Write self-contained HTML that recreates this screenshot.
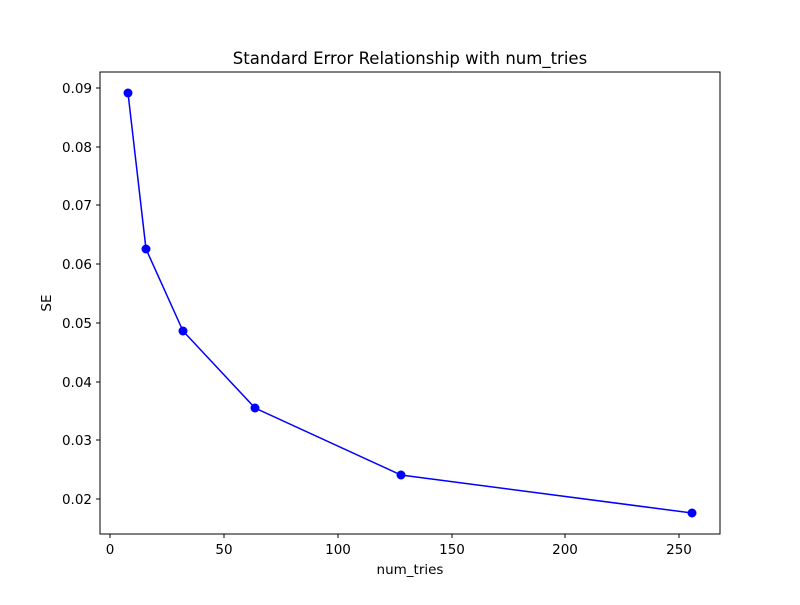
<!DOCTYPE html>
<html><head><meta charset="utf-8"><style>
body{margin:0;background:#fff}
svg text{font-family:"DejaVu Sans","Liberation Sans",sans-serif;fill:#000}
</style></head><body>
<svg width="800" height="600" xmlns="http://www.w3.org/2000/svg">
<rect width="800" height="600" fill="#fff"/>
<rect x="100" y="72" width="620" height="462" fill="none" stroke="#000" stroke-width="1"/>
<g stroke="#000" stroke-width="1">
<line x1="110" y1="534" x2="110" y2="538"/>
<line x1="224" y1="534" x2="224" y2="538"/>
<line x1="338" y1="534" x2="338" y2="538"/>
<line x1="452" y1="534" x2="452" y2="538"/>
<line x1="565" y1="534" x2="565" y2="538"/>
<line x1="679" y1="534" x2="679" y2="538"/>
<line x1="96" y1="88" x2="100" y2="88"/>
<line x1="96" y1="147" x2="100" y2="147"/>
<line x1="96" y1="205" x2="100" y2="205"/>
<line x1="96" y1="264" x2="100" y2="264"/>
<line x1="96" y1="323" x2="100" y2="323"/>
<line x1="96" y1="382" x2="100" y2="382"/>
<line x1="96" y1="440" x2="100" y2="440"/>
<line x1="96" y1="499" x2="100" y2="499"/>
</g>
<g font-size="13.5" text-anchor="middle">
<text x="110" y="554">0</text>
<text x="224" y="554">50</text>
<text x="338" y="554">100</text>
<text x="452" y="554">150</text>
<text x="565" y="554">200</text>
<text x="679" y="554">250</text>
</g>
<g font-size="13.5" text-anchor="end">
<text x="92" y="93">0.09</text>
<text x="92" y="152">0.08</text>
<text x="92" y="210">0.07</text>
<text x="92" y="269">0.06</text>
<text x="92" y="328">0.05</text>
<text x="92" y="387">0.04</text>
<text x="92" y="445">0.03</text>
<text x="92" y="504">0.02</text>
</g>
<text x="410" y="574" font-size="13.5" text-anchor="middle">num_tries</text>
<text x="51" y="303" font-size="13.5" text-anchor="middle" transform="rotate(-90 51 303)">SE</text>
<text x="410" y="64" font-size="16.5" text-anchor="middle">Standard Error Relationship with num_tries</text>
<polyline fill="none" stroke="#0000ff" stroke-width="1.5" points="128,93 146,249 183,331 255,408 401,475 692,513"/>
<g fill="#0000ff">
<circle cx="128" cy="93" r="4.5"/>
<circle cx="146" cy="249" r="4.5"/>
<circle cx="183" cy="331" r="4.5"/>
<circle cx="255" cy="408" r="4.5"/>
<circle cx="401" cy="475" r="4.5"/>
<circle cx="692" cy="513" r="4.5"/>
</g>
</svg>
</body></html>
